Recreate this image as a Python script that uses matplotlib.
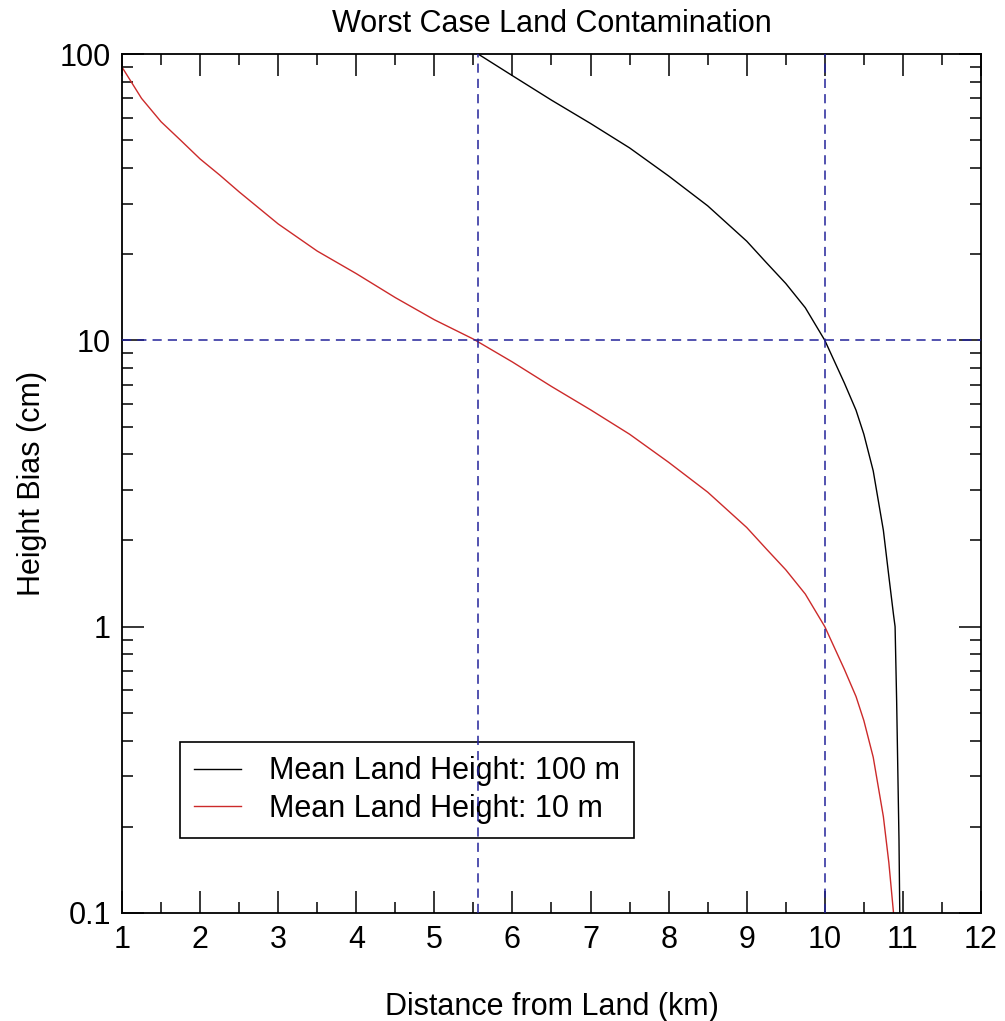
import numpy as np
import matplotlib.pyplot as plt
from matplotlib.ticker import FixedLocator, LogLocator, NullFormatter, MultipleLocator

plt.rcParams['font.family'] = ['Liberation Sans', 'DejaVu Sans']

# Distance from land (km) and height bias (cm)
dist_10m = [1.0, 1.25, 1.5, 1.75, 2.0, 2.25, 2.5, 3.0, 3.5, 4.0, 4.5, 5.0, 5.5,
            6.0, 6.5, 7.0, 7.5, 8.0, 8.5, 9.0, 9.25, 9.5, 9.75, 10.0, 10.25,
            10.4, 10.5, 10.62, 10.75, 10.82, 10.88]
bias_10m = [90, 70, 58, 50, 43, 37.8, 33, 25.5, 20.5, 17.1, 14.1, 11.8, 10.1,
            8.4, 6.9, 5.72, 4.7, 3.75, 2.95, 2.22, 1.87, 1.58, 1.3, 1.0, 0.71,
            0.57, 0.47, 0.35, 0.217, 0.15, 0.1]

dist_100m = [5.56, 6.0, 6.5, 7.0, 7.5, 8.0, 8.5, 9.0, 9.25, 9.5, 9.75, 10.0,
             10.25, 10.4, 10.5, 10.62, 10.75, 10.82, 10.88, 10.9, 10.92, 10.95, 10.96]
bias_100m = [100, 84, 69, 57.2, 47, 37.5, 29.5, 22.2, 18.7, 15.8, 13, 10,
             7.1, 5.7, 4.7, 3.5, 2.17, 1.5, 1.1, 1.0, 0.55, 0.18, 0.1]

# reference lines
ref_x = [5.56, 10.0]
ref_y = [10.0]

ytick_vals = [0.1, 1, 10, 100]
ytick_labels = ['0.1', '1', '10', '100']
xtick_vals = list(range(1, 13))

fs = 22

fig = plt.figure(figsize=(10.05, 10.21), dpi=100)
ax = fig.add_axes([0.1214, 0.1058, 0.8547, 0.8413])

ax.plot(dist_100m, bias_100m, color='black', lw=1.0, label='Mean Land Height: 100 m')
ax.plot(dist_10m, bias_10m, color='#cc2a2a', lw=1.0, label='Mean Land Height: 10 m')

blue = '#23239a'
for xv in ref_x:
    ax.axvline(xv, color=blue, lw=1.1, ls=(0, (6, 4)), zorder=6)
for yv in ref_y:
    ax.axhline(yv, color=blue, lw=1.1, ls=(0, (6, 4)), zorder=6)

ax.set_yscale('log')
ax.set_xlim(1, 12)
ax.set_ylim(0.1, 100)
ax.yaxis.set_major_locator(FixedLocator(ytick_vals))
ax.set_yticklabels(ytick_labels)
ax.yaxis.set_minor_locator(LogLocator(base=10, subs=np.arange(2, 10)))
ax.yaxis.set_minor_formatter(NullFormatter())
ax.set_xticks(xtick_vals)
ax.xaxis.set_minor_locator(MultipleLocator(0.5))

ax.tick_params(which='both', direction='in', top=True, right=True, width=1.1,
               labelsize=fs, colors='black')
ax.tick_params(which='major', length=16)
ax.tick_params(which='minor', length=8)
ax.tick_params(axis='y', pad=8)
ax.tick_params(axis='x', pad=9)
for s in ax.spines.values():
    s.set_linewidth(1.3)

ax.set_title('Worst Case Land Contamination', fontsize=fs, pad=16)
ax.set_xlabel('Distance from Land (km)', fontsize=fs, labelpad=26)
ax.set_ylabel('Height Bias (cm)', fontsize=fs, labelpad=9)

leg = ax.legend(loc='lower left', bbox_to_anchor=(0.0675, 0.0873), borderaxespad=0,
                fontsize=fs, fancybox=False, edgecolor='black', framealpha=1,
                handlelength=1.55, handletextpad=0.9, labelspacing=0.25, borderpad=0.46)
leg.get_frame().set_linewidth(1.2)

fig.savefig('out.png', dpi=100)
